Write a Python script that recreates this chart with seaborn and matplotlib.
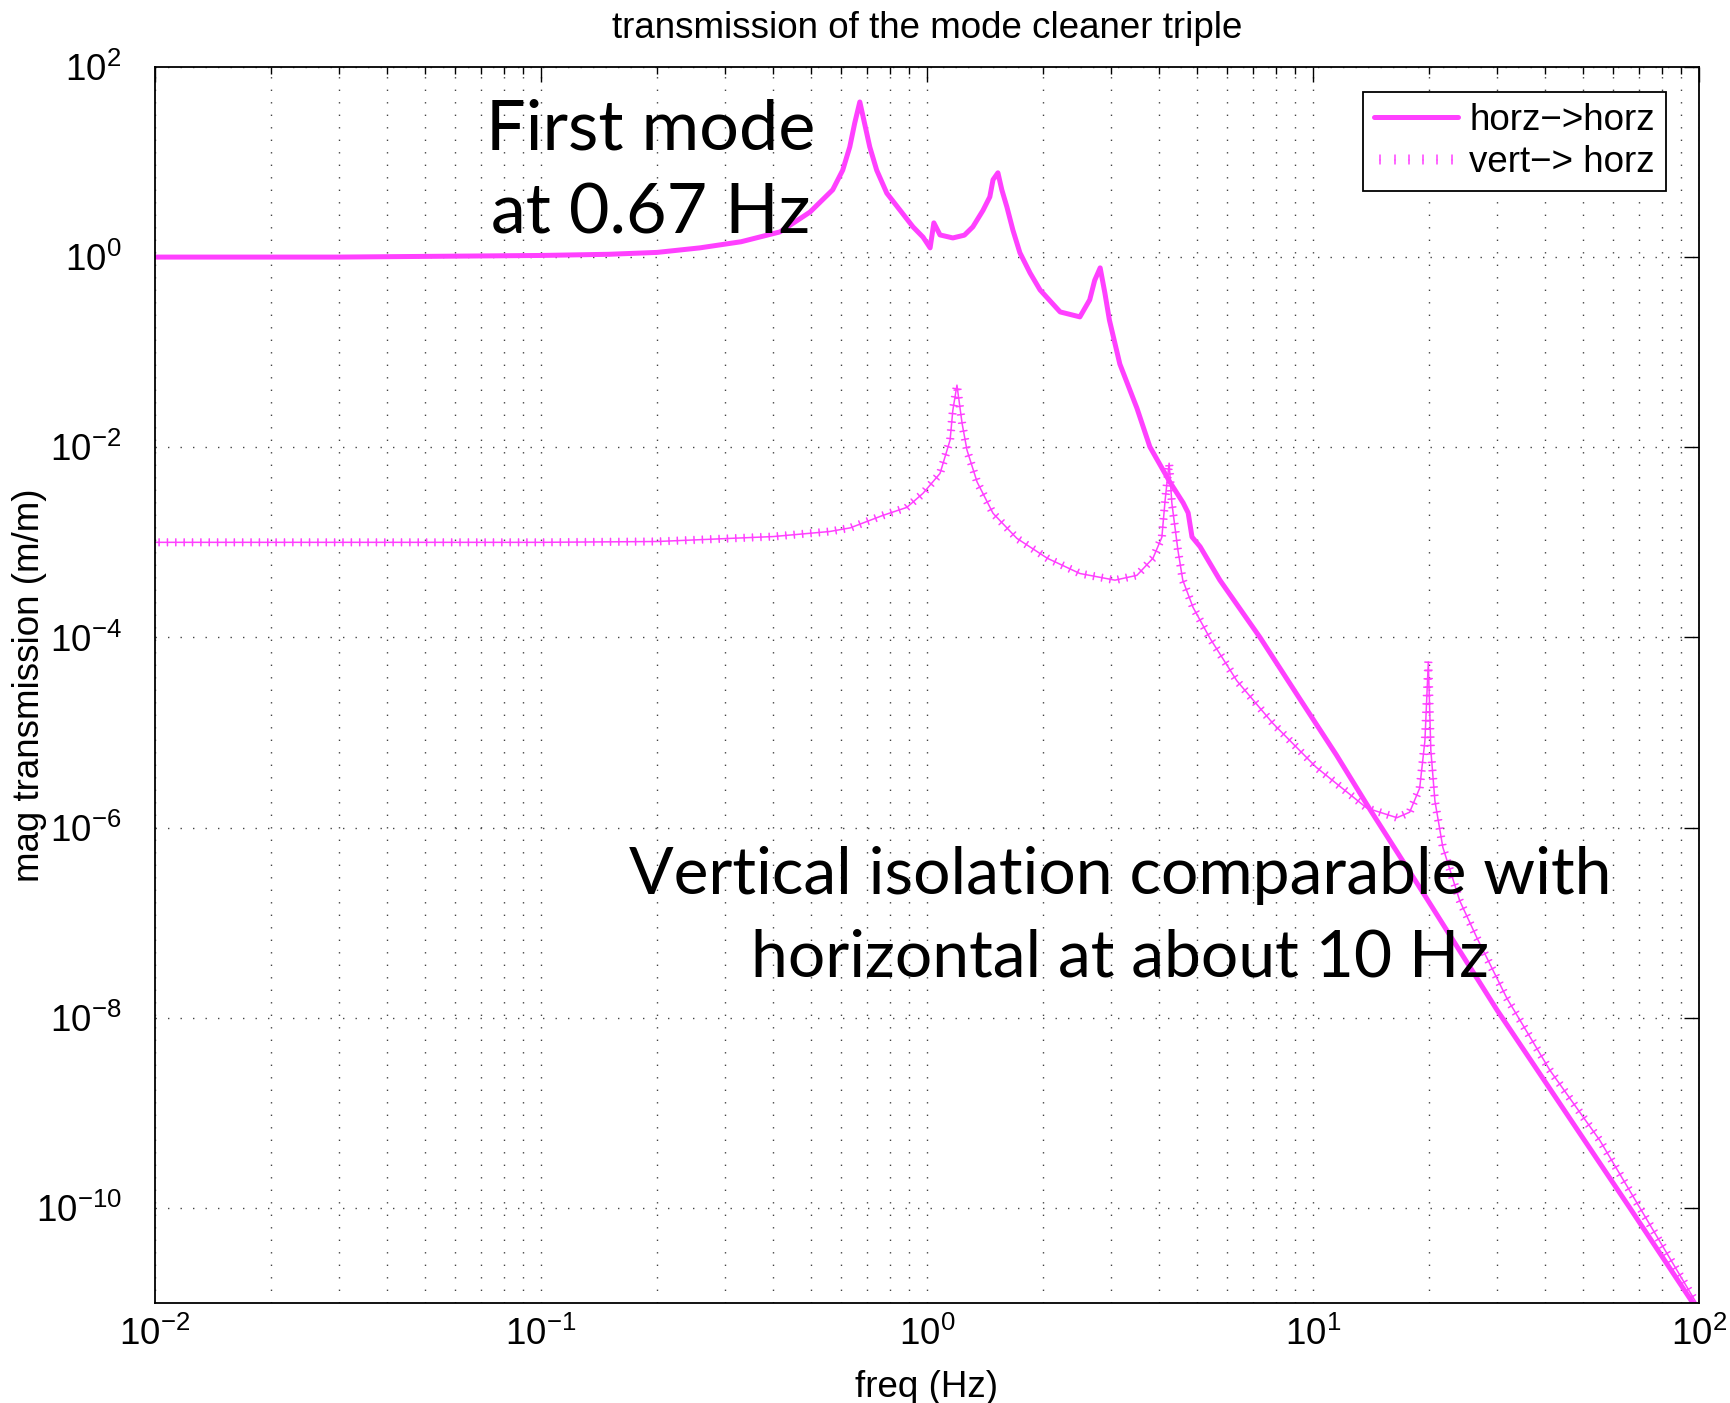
import numpy as np
import matplotlib
matplotlib.use("Agg")
import matplotlib.pyplot as plt
import matplotlib.patheffects as pe
from matplotlib.lines import Line2D
from matplotlib.ticker import FixedLocator, LogFormatterSciNotation, NullLocator, LogLocator
import seaborn as sns

# horz -> horz
horz_f = [0.01, 0.03, 0.1, 0.15, 0.2, 0.258, 0.33, 0.416, 0.498, 0.570, 0.605, 0.631, 0.650,
          0.670, 0.690, 0.711, 0.741, 0.787, 0.920, 0.977, 1.019, 1.042, 1.081, 1.167, 1.25,
          1.315, 1.397, 1.455, 1.483, 1.527, 1.563, 1.611, 1.67, 1.741, 1.85, 1.963, 2.213, 2.49, 2.64,
          2.72, 2.81, 2.89, 2.97, 3.16, 3.5, 3.78, 4.26, 4.61, 4.75, 4.86, 5.10, 5.74,
          7.29, 9.25, 11.5, 14.05, 19.7, 26.3, 30.0, 66.2, 100.0]
horz_mag = [1.0, 1.0, 1.04, 1.07, 1.12, 1.25, 1.45, 1.84, 2.98, 5.1, 8.2, 14.4, 25.7,
            42.8, 25.0, 14.4, 8.2, 4.7, 2.08, 1.62, 1.25, 2.29, 1.71, 1.59, 1.7,
            2.08, 3.1, 4.3, 6.5, 7.7, 5.1, 3.37, 1.92, 1.11, 0.68, 0.452, 0.265, 0.235, 0.355,
            0.57, 0.77, 0.42, 0.217, 0.075, 0.0257, 0.0101, 0.0043, 0.0026, 0.00204, 0.00114, 0.0009, 4.0e-4,
            1.0e-4, 2.25e-5, 5.8e-6, 1.55e-6, 1.8e-7, 2.8e-8, 1.2e-8, 1.0e-10, 8e-12]

# vert -> horz
vert_f = [0.01, 0.03, 0.1, 0.2, 0.4, 0.56, 0.633, 0.769, 0.887, 0.977, 1.081, 1.148,
          1.167, 1.196, 1.233, 1.27, 1.349, 1.483, 1.71, 2.05, 2.49, 3.07, 3.50, 3.85,
          4.06, 4.14, 4.24, 4.31, 4.47, 4.60, 4.89, 5.41, 6.35, 7.87, 10.2, 13.8, 16.5,
          17.8, 18.9, 19.5, 19.9, 20.2, 20.7, 21.7, 24.0, 26.6, 31.8, 41.1, 55.4, 70.3, 100.0]
vert_mag = [1.0e-3, 1.0e-3, 1.0e-3, 1.02e-3, 1.15e-3, 1.3e-3, 1.42e-3, 1.92e-3, 2.33e-3, 3.28e-3, 5.3e-3, 0.0119,
            0.0245, 0.045, 0.0179, 0.0093, 4.3e-3, 2.02e-3, 1.10e-3, 6.8e-4, 4.7e-4, 4.0e-4, 4.5e-4, 6.8e-4,
            1.13e-3, 2.77e-3, 6.8e-3, 2.58e-3, 8.2e-4, 4.0e-4, 2.07e-4, 9.8e-5, 3.5e-5, 1.25e-5, 4.3e-6, 1.6e-6, 1.27e-6,
            1.45e-6, 2.6e-6, 8.2e-6, 5.5e-5, 6.5e-6, 1.9e-6, 6.2e-7, 1.7e-7, 6.9e-8, 1.6e-8, 2.8e-9, 5.1e-10, 1.0e-10, 9e-12]

y_ticks = [1e-10, 1e-8, 1e-6, 1e-4, 1e-2, 1e0, 1e2]
labels = ["horz\u2212>horz", "vert\u2212> horz"]

MAG = "#ff40ff"
FS = 26.5

sns.set_style("white")
plt.rcParams['font.family'] = ['Liberation Sans', 'DejaVu Sans']
plt.rcParams['mathtext.fontset'] = 'custom'
plt.rcParams['mathtext.rm'] = 'Liberation Sans'
plt.rcParams['mathtext.default'] = 'rm'
for k in ['text.color', 'axes.labelcolor', 'xtick.color', 'ytick.color']:
    plt.rcParams[k] = 'black'

fig = plt.figure(figsize=(17.31, 14.03), dpi=100)
ax = fig.add_axes([0.0895, 0.0713, 0.892, 0.881])
ax.set_xscale("log")
ax.set_yscale("log")

# '+' marks along the thin curve
ticks_fx = [pe.Normal(),
            pe.TickedStroke(spacing=6.0, angle=90, length=0.42),
            pe.TickedStroke(spacing=6.0, angle=-90, length=0.42)]

sns.lineplot(x=horz_f, y=horz_mag, ax=ax, color=MAG, lw=3.6, sort=False,
             estimator=None, solid_capstyle="round", solid_joinstyle="round")
sns.lineplot(x=vert_f, y=vert_mag, ax=ax, color=MAG, lw=1.1, sort=False,
             estimator=None, path_effects=ticks_fx)

ax.set_xlim(1e-2, 1e2)
ax.set_ylim(1e-11, 1e2)

ax.xaxis.set_major_locator(LogLocator(base=10))
ax.xaxis.set_minor_locator(LogLocator(base=10, subs=np.arange(2, 10)))
ax.xaxis.set_major_formatter(LogFormatterSciNotation())
ax.yaxis.set_major_locator(FixedLocator(y_ticks))
ax.yaxis.set_major_formatter(LogFormatterSciNotation())
ax.yaxis.set_minor_locator(NullLocator())

grid_kw = dict(color="#444444", linestyle=(0, (1, 8)), linewidth=1.0)
ax.grid(True, which="major", axis="both", **grid_kw)
ax.grid(True, which="minor", axis="x", **grid_kw)

ax.tick_params(which="both", direction="in", top=True, right=True, width=1.0, colors="black")
ax.tick_params(which="major", length=11, labelsize=FS)
ax.tick_params(which="minor", length=5)
ax.tick_params(axis="x", which="major", pad=10)
ax.tick_params(axis="y", which="major", pad=24)
for s in ax.spines.values():
    s.set_linewidth(1.3)
    s.set_color("black")

ax.set_title("transmission of the mode cleaner triple", fontsize=FS, pad=21)
ax.set_xlabel("freq (Hz)", fontsize=FS)
ax.set_ylabel("mag transmission (m/m)", fontsize=FS)
ax.xaxis.set_label_coords(0.5, -0.054)
ax.yaxis.set_label_coords(-0.070, 0.5)

# legend
leg_fx = [pe.TickedStroke(spacing=9.5, angle=90, length=0.35),
          pe.TickedStroke(spacing=9.5, angle=-90, length=0.35)]
handles = [Line2D([], [], color=MAG, lw=3.6),
           Line2D([], [], color=MAG, lw=1.1, path_effects=leg_fx)]
leg = ax.legend(handles, labels, loc="upper right",
                bbox_to_anchor=(1666 / 1731, 1 - 92 / 1403), bbox_transform=fig.transFigure,
                borderaxespad=0, fontsize=FS, handlelength=2.3, handletextpad=0.3,
                borderpad=0.3, labelspacing=0.2, fancybox=False, framealpha=1)
leg.get_frame().set_edgecolor("black")
leg.get_frame().set_linewidth(1.3)

ann = ['Lato', 'DejaVu Sans']
ax.text(0.321, 0.933, "First mode", transform=ax.transAxes, ha="center", va="baseline",
        fontsize=50.5, family=ann)
ax.text(0.321, 0.865, "at 0.67 Hz", transform=ax.transAxes, ha="center", va="baseline",
        fontsize=50.5, family=ann)
ax.text(0.625, 0.331, "Vertical isolation comparable with", transform=ax.transAxes,
        ha="center", va="baseline", fontsize=47.5, family=ann)
ax.text(0.625, 0.264, "horizontal at about 10 Hz", transform=ax.transAxes,
        ha="center", va="baseline", fontsize=47.5, family=ann)

fig.savefig("out.png", dpi=100)
